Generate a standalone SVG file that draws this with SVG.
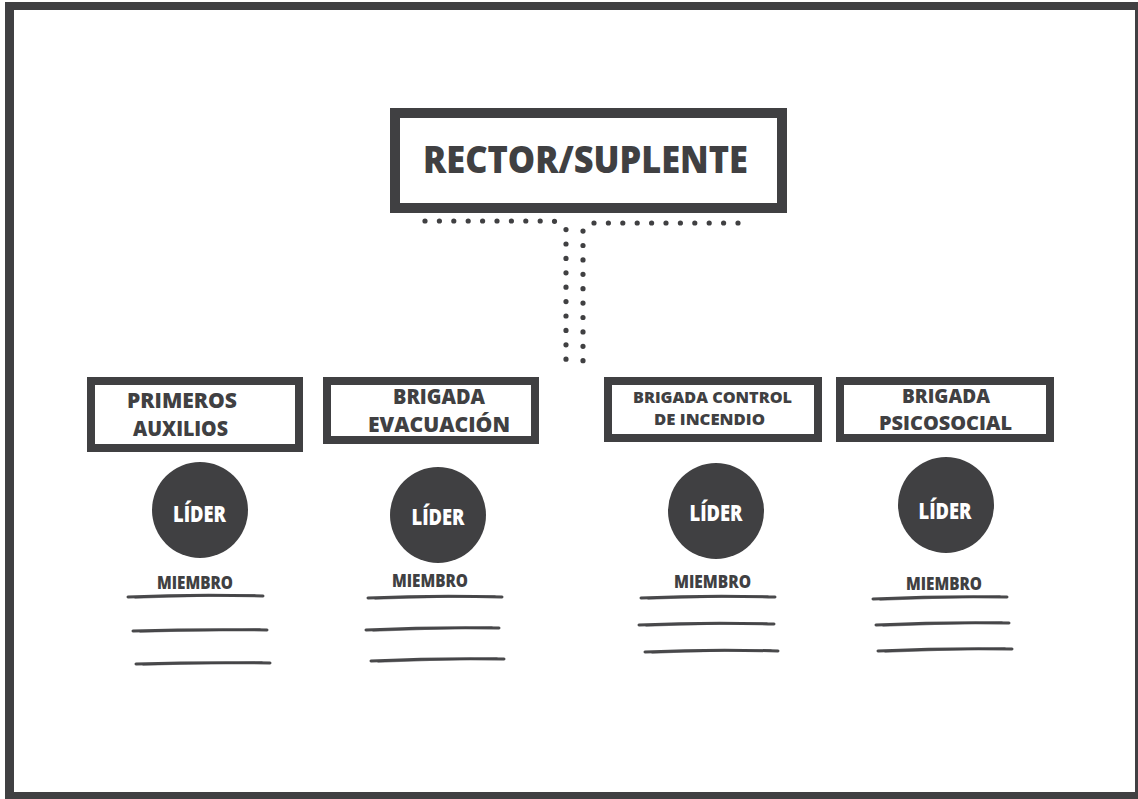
<svg xmlns="http://www.w3.org/2000/svg" width="1138" height="799" viewBox="0 0 1138 799">
<style>
.box{fill:#fff;stroke:#404042;stroke-width:8}
.t{font-family:"Open Sans","Liberation Sans",sans-serif;font-weight:800;fill:#404042;text-anchor:middle}
.lt{font-family:"Open Sans","Liberation Sans",sans-serif;font-weight:800;fill:#fff;text-anchor:middle;font-size:23px}
.m{font-family:"Open Sans","Liberation Sans",sans-serif;font-weight:800;fill:#404042;text-anchor:middle;font-size:17px}
.dot{fill:none;stroke:#404042;stroke-width:5.2;stroke-linecap:round;stroke-dasharray:0 14.4}
.ln{fill:none;stroke:#404042;stroke-width:3;stroke-linecap:round;opacity:0.95}
.ln2{fill:none;stroke:#404042;stroke-width:1.3;stroke-linecap:round;opacity:0.6}
.c{fill:#404042}
</style>
<rect x="0" y="0" width="1138" height="799" fill="#fff"/>
<path d="M5,2H1138V799H5Z M14,10V792H1135V10Z" fill="#404042" fill-rule="evenodd"/>

<g id="connectors">
<path class="dot" d="M425,221H554L566,229V372"/>
<path class="dot" d="M738,223H591L583,231V369"/>
</g>

<g id="rector">
<rect x="395" y="113" width="387" height="95" fill="#fff" stroke="#404042" stroke-width="10"/>
<text class="t" x="585.5" y="173" font-size="37" textLength="325" lengthAdjust="spacingAndGlyphs">RECTOR/SUPLENTE</text>
</g>

<g id="primeros-auxilios">
<rect class="box" x="91" y="381" width="208" height="67"/>
<text class="t" x="182" y="407.5" font-size="20.5" textLength="110" lengthAdjust="spacingAndGlyphs">PRIMEROS</text>
<text class="t" x="180.5" y="435.5" font-size="20.5" textLength="95" lengthAdjust="spacingAndGlyphs">AUXILIOS</text>
</g>

<g id="brigada-evacuacion">
<rect class="box" x="327" y="381" width="208" height="59"/>
<text class="t" x="439" y="404" font-size="20.5" textLength="92" lengthAdjust="spacingAndGlyphs">BRIGADA</text>
<text class="t" x="439" y="432" font-size="20.5" textLength="142" lengthAdjust="spacingAndGlyphs">EVACUACIÓN</text>
</g>

<g id="brigada-control-incendio">
<rect class="box" x="608" y="381" width="210" height="57"/>
<text class="t" x="712.5" y="403" font-size="16" textLength="159" lengthAdjust="spacingAndGlyphs">BRIGADA CONTROL</text>
<text class="t" x="709.5" y="425" font-size="16" textLength="111" lengthAdjust="spacingAndGlyphs">DE INCENDIO</text>
</g>

<g id="brigada-psicosocial">
<rect class="box" x="840" y="381" width="210" height="57"/>
<text class="t" x="946" y="403" font-size="19.5" textLength="88" lengthAdjust="spacingAndGlyphs">BRIGADA</text>
<text class="t" x="945.5" y="430" font-size="19.5" textLength="133" lengthAdjust="spacingAndGlyphs">PSICOSOCIAL</text>
</g>

<g id="lider-1">
<circle class="c" cx="200" cy="510" r="48"/>
<text class="lt" x="199.5" y="522" textLength="53" lengthAdjust="spacingAndGlyphs">LÍDER</text>
</g>
<g id="miembros-1">
<text class="m" x="195" y="589" textLength="76" lengthAdjust="spacingAndGlyphs">MIEMBRO</text>
<path class="ln" d="M128,597Q195,594 263,596"/>
<path class="ln2" d="M135,598Q200,596 255,595"/>
<path class="ln" d="M133,631Q200,629 267,630"/>
<path class="ln2" d="M140,632Q205,631 260,629"/>
<path class="ln" d="M136,664Q203,662 270,663"/>
<path class="ln2" d="M143,665Q208,664 262,662"/>
</g>

<g id="lider-2">
<circle class="c" cx="438" cy="515" r="48"/>
<text class="lt" x="438" y="525" textLength="53" lengthAdjust="spacingAndGlyphs">LÍDER</text>
</g>
<g id="miembros-2">
<text class="m" x="430" y="587" textLength="76" lengthAdjust="spacingAndGlyphs">MIEMBRO</text>
<path class="ln" d="M368,598Q435,595 502,597"/>
<path class="ln2" d="M375,599Q440,597 495,596"/>
<path class="ln" d="M366,630Q432,627 499,628"/>
<path class="ln2" d="M373,631Q437,629 492,627"/>
<path class="ln" d="M371,661Q437,658 504,659"/>
<path class="ln2" d="M378,662Q442,660 497,658"/>
</g>

<g id="lider-3">
<circle class="c" cx="716" cy="511" r="48"/>
<text class="lt" x="716" y="521" textLength="53" lengthAdjust="spacingAndGlyphs">LÍDER</text>
</g>
<g id="miembros-3">
<text class="m" x="712.5" y="588" textLength="77" lengthAdjust="spacingAndGlyphs">MIEMBRO</text>
<path class="ln" d="M641,598Q708,595 775,597"/>
<path class="ln2" d="M648,599Q713,597 768,596"/>
<path class="ln" d="M639,625Q706,622 774,624"/>
<path class="ln2" d="M646,626Q711,624 767,623"/>
<path class="ln" d="M645,652Q711,649 778,651"/>
<path class="ln2" d="M652,653Q716,651 771,650"/>
</g>

<g id="lider-4">
<circle class="c" cx="946" cy="505" r="48"/>
<text class="lt" x="945" y="519" textLength="53" lengthAdjust="spacingAndGlyphs">LÍDER</text>
</g>
<g id="miembros-4">
<text class="m" x="944" y="590" textLength="76" lengthAdjust="spacingAndGlyphs">MIEMBRO</text>
<path class="ln" d="M873,599Q940,596 1007,597"/>
<path class="ln2" d="M880,600Q945,598 1000,596"/>
<path class="ln" d="M876,625Q942,622 1009,623"/>
<path class="ln2" d="M883,626Q947,624 1002,622"/>
<path class="ln" d="M878,651Q945,648 1012,649"/>
<path class="ln2" d="M885,652Q950,650 1005,648"/>
</g>
</svg>
